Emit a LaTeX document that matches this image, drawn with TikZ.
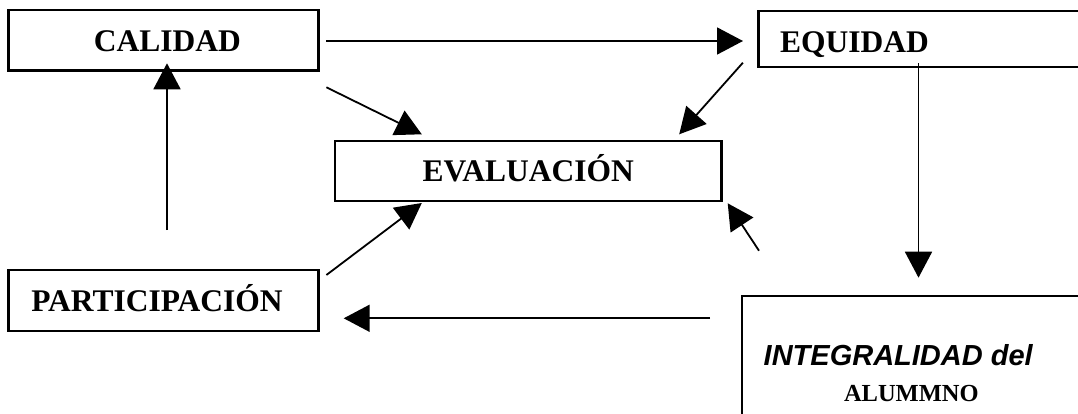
\documentclass[tikz,border=0pt]{standalone}
\usepackage{fontspec}
\setmainfont{Liberation Serif}
\setsansfont{Liberation Sans}
\usetikzlibrary{arrows.meta}
\begin{document}
\begin{tikzpicture}[x=1pt,y=-1pt,
  box/.style={draw,line width=2.3pt,inner sep=0pt},
  lbl/.style={font=\bfseries\fontsize{31.5}{36}\selectfont,text depth=0pt},
  conn/.style={line width=1.8pt,-{Triangle[length=26pt,width=27pt]}}]
\useasboundingbox (0,0) rectangle (1078,414);
% boxes
\node[box,lbl,text height=22.8pt,minimum width=310pt,minimum height=60.7pt] (cal) at (163.5,40.3) {\hspace*{8pt}CALIDAD};
\node[box,lbl,text height=27.8pt,anchor=north west,minimum height=55.7pt,inner xsep=21.6pt,text width=300pt,align=left] (equ) at (757.4,10) {EQUIDAD};
\node[box,lbl,text height=21.4pt,minimum width=386.5pt,minimum height=60pt] (eva) at (528.2,171) {EVALUACIÓN};
\node[box,lbl,text height=22.4pt,minimum width=310pt,minimum height=61pt] (par) at (163.5,300.5) {PARTICIPACIÓN\hspace*{13pt}};
\node[box,anchor=north west,minimum width=360pt,minimum height=140pt] (int) at (741,295) {};
\node[anchor=base west,inner sep=0pt,font=\sffamily\bfseries\itshape\fontsize{29}{34}\selectfont] (intt) at (763.5,365) {INTEGRALIDAD del};
\node[anchor=base west,inner sep=0pt,font=\bfseries\fontsize{24.5}{29}\selectfont] (alu) at (843.8,401.7) {ALUMMNO};
% connector ends
\coordinate (a1) at (326.4,41);   \coordinate (a1t) at (743,41);
\coordinate (a2) at (326.4,87.3); \coordinate (a2t) at (421.8,134.3);
\coordinate (a3) at (742.9,62.7); \coordinate (a3t) at (679.2,134.3);
\coordinate (a4) at (918.5,63.3); \coordinate (a4t) at (918.5,277.7);
\coordinate (a5) at (759,250.7);  \coordinate (a5t) at (727.7,203.3);
\coordinate (a6) at (710.2,318.3); \coordinate (a6t) at (343.7,318.3);
\coordinate (a7) at (326.4,275);  \coordinate (a7t) at (421.8,203);
\coordinate (a8) at (167,230);    \coordinate (a8t) at (167,63.3);
% connectors
\draw[conn] (a1) -- (a1t);
\draw[conn] (a2) -- (a2t);
\draw[conn] (a3) -- (a3t);
\draw[conn] (a4) -- (a4t);
\draw[conn] (a5) -- (a5t);
\draw[conn] (a6) -- (a6t);
\draw[conn] (a7) -- (a7t);
\draw[conn] (a8) -- (a8t);
\end{tikzpicture}
\end{document}
